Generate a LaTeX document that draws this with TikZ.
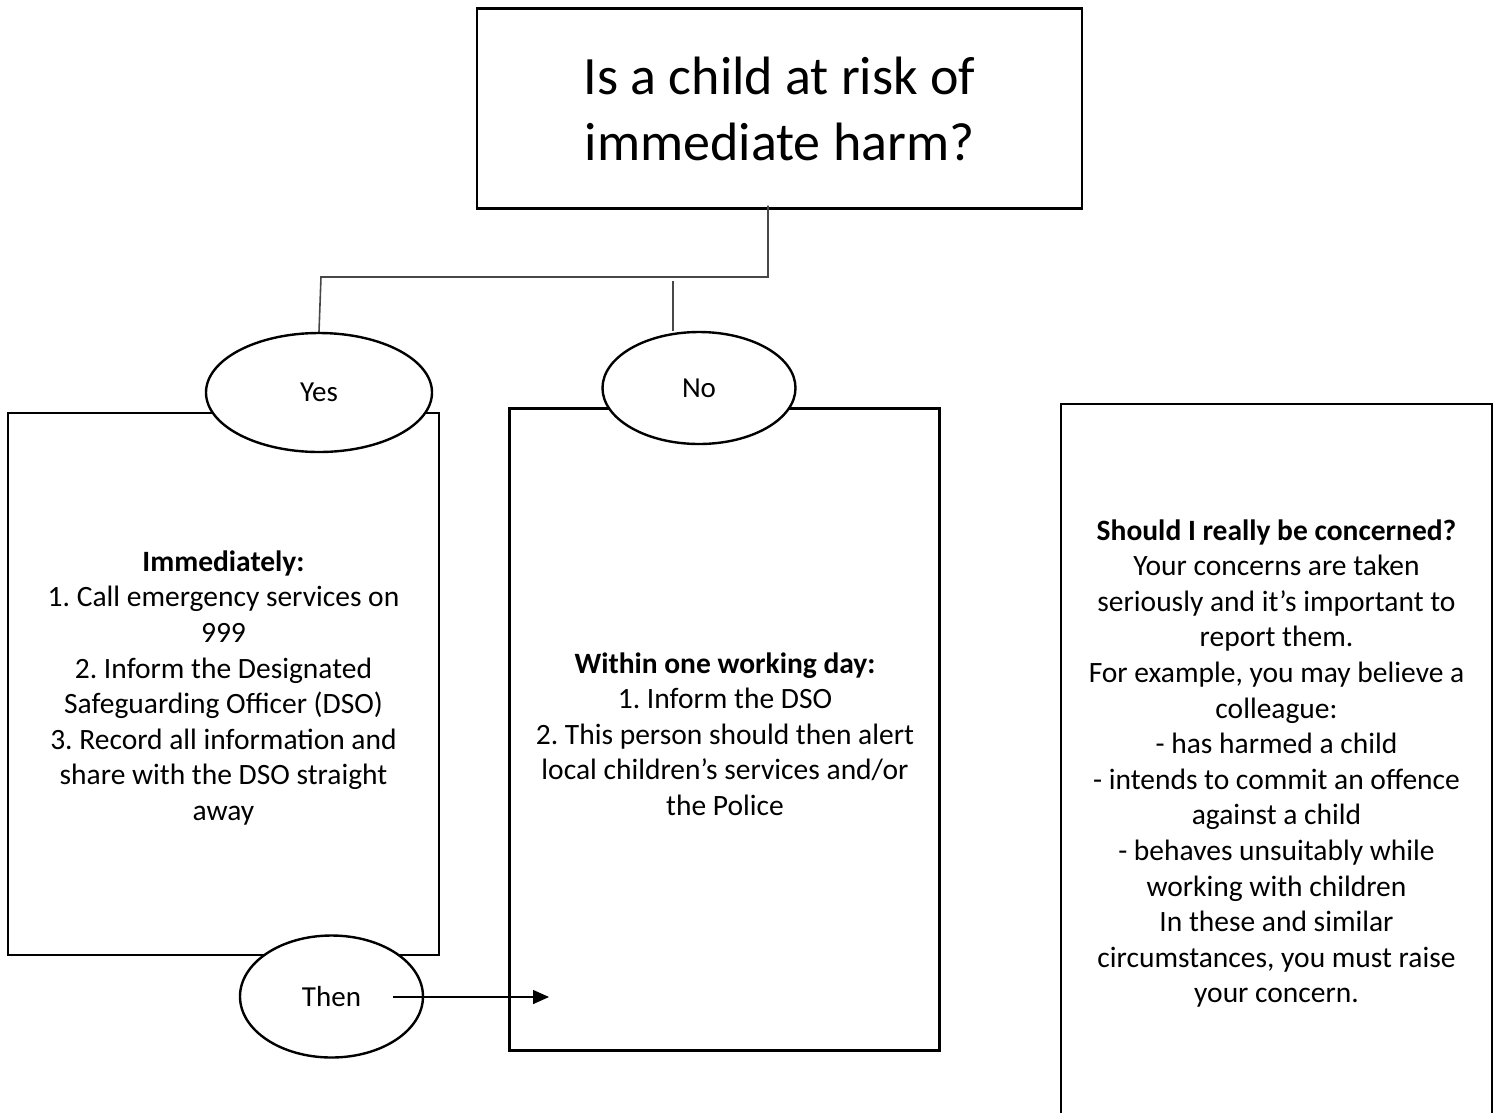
\documentclass[tikz,border=0pt]{standalone}
\usepackage{fontspec}
\setmainfont{Carlito}
\usetikzlibrary{arrows.meta,shapes.geometric}
\begin{document}
\frenchspacing
\begin{tikzpicture}[x=1pt,y=-1pt,
  box/.style={draw=black,line width=2.4pt,fill=white,inner sep=0pt},
  oval/.style={draw=black,line width=2.4pt,fill=white,ellipse,inner sep=0pt,font=\fontsize{29}{35}\selectfont},
  conn/.style={draw=black!72,line width=1.6pt},
  body/.style={align=center,font=\fontsize{29.5}{35.6}\selectfont,inner sep=0pt}]
\useasboundingbox (0,0) rectangle (1497,1112);
\clip (0,0) rectangle (1497,1112);
% boxes
\node[box,minimum width=605pt,minimum height=200pt,align=center,font=\fontsize{54}{66}\selectfont] (top) at (779.5,108.5) {Is a child at risk of\\immediate harm?};
\node[box,minimum width=431pt,minimum height=542pt] (left) at (223.5,684) {};
\node[box,minimum width=430pt,minimum height=642pt] (mid) at (724.5,729.5) {};
\node[box,minimum width=431pt,minimum height=740pt] (right) at (1276.5,774) {};
% ellipses
\node[oval,minimum width=226pt,minimum height=119pt] (yes) at (319,392.5) {Yes};
\node[oval,minimum width=193pt,minimum height=112pt] (no) at (699,388) {No};
\node[oval,minimum width=183pt,minimum height=122pt] (then) at (331.5,996.5) {Then};
% texts
\node[body] (lefttext) at (223.5,688) {\textbf{Immediately:}\\1. Call emergency services on\\999\\2. Inform the Designated\\Safeguarding Officer (DSO)\\3. Record all information and\\share with the DSO straight\\away};
\node[body] (midtext) at (725,734) {\textbf{Within one working day:}\\1. Inform the DSO\\2. This person should then alert\\local children’s services and/or\\the Police};
\node[body] (righttext) at (1276.5,763.5) {\textbf{Should I really be concerned?}\\Your concerns are taken\\seriously and it’s important to\\report them.\\For example, you may believe a\\colleague:\\- has harmed a child\\- intends to commit an offence\\against a child\\- behaves unsuitably while\\working with children\\In these and similar\\circumstances, you must raise\\your concern.};
% connectors
\coordinate (j1) at (768,277);
\coordinate (j2) at (321,277);
\coordinate (n1) at (673,281);
\coordinate (tip) at (549,997);
\draw[conn] ([xshift=-11.5pt,yshift=4pt]top.south) -- (j1) -- (j2) -- (yes.north);
\draw[conn] (n1) -- (n1 |- no.north);
\draw[line width=1.4pt,-{Triangle[length=16pt,width=14pt]}] ([xshift=61.5pt,yshift=-0.5pt]then.center) -- (tip);
\end{tikzpicture}
\end{document}
